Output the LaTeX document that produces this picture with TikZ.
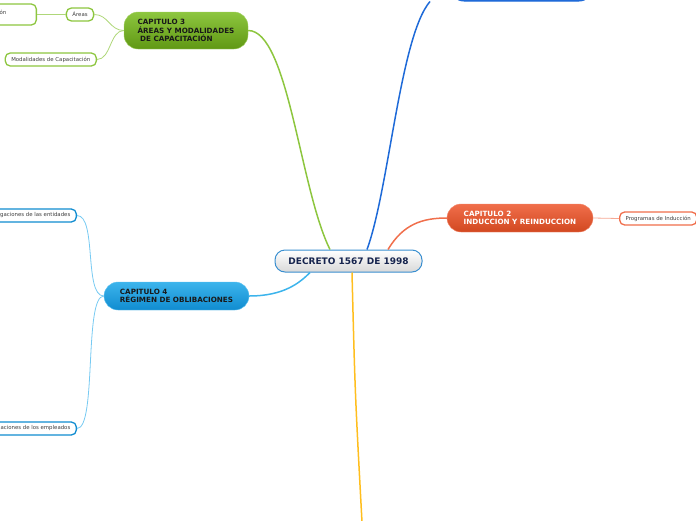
\documentclass[tikz,border=0pt]{standalone}
\usepackage{fontspec}
\setmainfont{DejaVu Sans}
\usetikzlibrary{positioning, calc}
\definecolor{mapgreen}{RGB}{141, 198, 63}
\definecolor{mapgreendk}{RGB}{96, 152, 20}
\definecolor{maporange}{RGB}{240, 110, 75}
\definecolor{maporangedk}{RGB}{210, 72, 32}
\definecolor{mapblue}{RGB}{60, 180, 236}
\definecolor{mapbluedk}{RGB}{16, 140, 208}
\definecolor{maptopblue}{RGB}{30, 106, 216}
\definecolor{mapyellow}{RGB}{255, 190, 30}
\definecolor{mapnavy}{RGB}{22, 36, 78}
\definecolor{mapframe}{RGB}{58, 143, 208}

\begin{document}
\begin{tikzpicture}[
    x=1pt, y=-1pt,
    central/.style={rectangle, draw=mapframe, line width=1pt, rounded corners=10pt, shade, top color=white, bottom color=black!15, minimum width=147pt, minimum height=22pt, font=\fontsize{9}{10}\selectfont\bfseries, text=mapnavy},
    chapter/.style={rectangle, rounded corners=14pt, shade, minimum height=28pt, font=\fontsize{7.2}{8.2}\selectfont\bfseries, align=left, inner sep=0pt},
    topic/.style={rectangle, draw, fill=white, line width=1.3pt, rounded corners=5pt, minimum height=13pt, inner xsep=6pt, inner ysep=0pt, font=\fontsize{5.4}{6.4}\selectfont, text=black!75},
    branch/.style={line width=1.5pt},
    twig/.style={line width=0.8pt}
]
\useasboundingbox (0,0) rectangle (696,520);
\begin{scope}
\clip (0,0) rectangle (696,520);

% === Nodo central ===
\node[central] (decreto) at (348.5,261) {DECRETO 1567 DE 1998};

% === Capitulos ===
\node[chapter, top color=mapgreen, bottom color=mapgreendk, draw=mapgreen!80, minimum width=124pt, minimum height=37pt, text=black!90] (cap3) at (186,30.5) {CAPITULO 3\\ÁREAS Y MODALIDADES\\ \ DE CAPACITACIÓN};
\node[chapter, top color=maporange, bottom color=maporangedk, draw=maporange!80, minimum width=146pt, text=white] (cap2) at (520,218) {CAPITULO 2\\INDUCCION Y REINDUCCION};
\node[chapter, top color=mapblue, bottom color=mapbluedk, draw=mapblue!80, minimum width=145pt, text=black!90] (cap4) at (176.5,296) {CAPITULO 4\\RÉGIMEN DE OBLIBACIONES};
\node[chapter, top color=maptopblue!80, bottom color=maptopblue, draw=maptopblue, line width=1pt, minimum width=143pt] (cap1) at (521.5,-13) {};

% === Temas ===
\node[topic, draw=mapgreen] (areas) at (80,14.5) {Áreas};
\node[topic, draw=mapgreen, minimum height=21pt, anchor=east] (formacion) at (37,14.5) {\raisebox{4pt}{Formación}\hspace*{24pt}};
\node[topic, draw=mapgreen, anchor=east] (modalidades) at (97,59.5) {Modalidades de Capacitación};
\node[topic, draw=maporange, anchor=west] (programas) at (619,218.5) {Programas de Inducción};
\node[topic, draw=mapbluedk, anchor=east] (entidades) at (77,215.5) {Obligaciones de las entidades};
\node[topic, draw=mapbluedk, anchor=east] (empleados) at (77,428.5) {Obligaciones de los empleados};

% === Ramas principales ===
\draw[branch, mapgreen] (cap3.east) .. controls +(40,0) and +(-30,-60) .. ([xshift=-18.5pt]decreto.north);
\draw[branch, maptopblue] ([xshift=18.5pt]decreto.north) .. controls +(22,-60) and +(-30,35) .. ([xshift=-91.5pt]cap1.south);
\draw[branch, maporange] ([xshift=39.5pt]decreto.north) .. controls +(15,-25) and +(-25,0) .. (cap2.west);
\draw[branch, mapblue] (cap4.east) .. controls +(35,0) and +(-10,10) .. ([xshift=-38.5pt]decreto.south);
\coordinate (fondo) at (362,522);
\draw[branch, mapyellow] ([xshift=3.5pt]decreto.south) .. controls +(3,120) .. (fondo);

% === Ramas secundarias ===
\draw[twig, mapgreen!70] (cap3.west) .. controls +(-14,0) and +(14,0) .. (areas.east);
\draw[twig, mapgreen!70] (cap3.west) .. controls +(-14,0) and +(14,0) .. (modalidades.east);
\draw[twig, mapgreen!70] (areas.west) -- (formacion.east);
\draw[twig, maporange!60] (cap2.east) -- (programas.west);
\draw[twig, mapblue!70] (cap4.west) .. controls +(-20,0) and +(20,0) .. (entidades.east);
\draw[twig, mapblue!70] (cap4.west) .. controls +(-20,0) and +(20,0) .. (empleados.east);
\end{scope}
\end{tikzpicture}
\end{document}
